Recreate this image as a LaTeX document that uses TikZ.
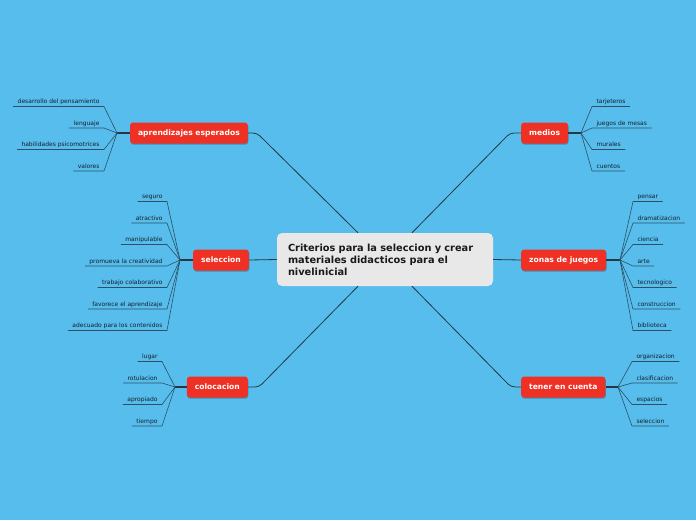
\documentclass[tikz,border=0pt]{standalone}
\usepackage{fontspec}
\setmainfont{DejaVu Sans}
\usetikzlibrary{shadows}
\definecolor{sky}{RGB}{86,189,236}
\definecolor{tomato}{RGB}{238,49,36}
\definecolor{paper}{RGB}{232,232,232}
\definecolor{ink}{RGB}{38,56,70}
\definecolor{twigc}{RGB}{46,80,102}
\definecolor{leaftext}{RGB}{22,32,42}

\begin{document}
\begin{tikzpicture}[x=1pt,y=-1pt,
  topic/.style={fill=paper,rounded corners=5pt,minimum height=53pt,inner xsep=11pt,
    text width=194pt,align=left,text=black!90,font=\fontsize{9.8}{12}\selectfont\bfseries},
  branch/.style={fill=tomato,rounded corners=3pt,minimum height=21pt,inner xsep=8pt,
    text=white,font=\fontsize{7.6}{9}\selectfont\bfseries,
    drop shadow={shadow xshift=0.5pt,shadow yshift=-1.2pt,opacity=0.25,fill=black}},
  leaf/.style={font=\fontsize{6}{7}\selectfont,text=leaftext,inner xsep=4.5pt,inner ysep=1.5pt,
    text height=4.5pt,text depth=1.5pt,outer sep=0pt},
  leafL/.style={leaf,anchor=south east},
  leafR/.style={leaf,anchor=south west},
  link/.style={draw=ink,line width=0.8pt,rounded corners=4pt},
  stub/.style={draw=ink,line width=1.1pt},
  twig/.style={draw=twigc,line width=0.6pt}]
  \useasboundingbox (0,0) rectangle (696,520);
  \fill[sky] (0,0) rectangle (696,520);

  % centre and main branches
  \node[topic] (ctr) at (385,259.5) {Criterios para la seleccion y crear\\materiales didacticos para el\\nivelinicial};
  \node[branch,anchor=east] (A) at (248,133) {aprendizajes esperados};
  \node[branch,anchor=east] (S) at (249,260) {seleccion};
  \node[branch,anchor=east] (C) at (248,387) {colocacion};
  \node[branch,anchor=west] (M) at (521,133) {medios};
  \node[branch,anchor=west] (Z) at (521,260) {zonas de juegos};
  \node[branch,anchor=west] (T) at (521,387) {tener en cuenta};

  \draw[link] (A.east) -- ++(9,0) -- ([xshift=-27pt]ctr.north);
  \draw[link] (S.east) -- (ctr.west);
  \draw[link] (C.east) -- ++(11,0) -- ([xshift=-27pt]ctr.south);
  \draw[link] (M.west) -- ++(-11,0) -- ([xshift=27pt]ctr.north);
  \draw[link] (Z.west) -- (ctr.east);
  \draw[link] (T.west) -- ++(-10,0) -- ([xshift=27pt]ctr.south);

  \coordinate (a0) at (117,133);
  \coordinate (s0) at (180,260);
  \coordinate (c0) at (175,387);
  \coordinate (m0) at (581,133);
  \coordinate (z0) at (620,260);
  \coordinate (t0) at (618,387);
  \draw[stub] (A.west) -- (a0);
  \draw[stub] (S.west) -- (s0);
  \draw[stub] (C.west) -- (c0);
  \draw[stub] (M.east) -- (m0);
  \draw[stub] (Z.east) -- (z0);
  \draw[stub] (T.east) -- (t0);

  % aprendizajes esperados
  \node[leafL] (a1) at (104,106.5) {desarrollo del pensamiento};
  \node[leafL] (a2) at (104,128) {lenguaje};
  \node[leafL] (a3) at (104,149.5) {habilidades psicomotrices};
  \node[leafL] (a4) at (104,171) {valores};
  \draw[twig] (a1.south west) -- (a1.south east) -- (a0);
  \draw[twig] (a2.south west) -- (a2.south east) -- (a0);
  \draw[twig] (a3.south west) -- (a3.south east) -- (a0);
  \draw[twig] (a4.south west) -- (a4.south east) -- (a0);

  % seleccion
  \node[leafL] (s1) at (167,201.5) {seguro};
  \node[leafL] (s2) at (167,223) {atractivo};
  \node[leafL] (s3) at (167,244.5) {manipulable};
  \node[leafL] (s4) at (167,266) {promueva la creatividad};
  \node[leafL] (s5) at (167,287.5) {trabajo colaborativo};
  \node[leafL] (s6) at (167,309) {favorece el aprendizaje};
  \node[leafL] (s7) at (167,330.5) {adecuado para los contenidos};
  \draw[twig] (s1.south west) -- (s1.south east) -- (s0);
  \draw[twig] (s2.south west) -- (s2.south east) -- (s0);
  \draw[twig] (s3.south west) -- (s3.south east) -- (s0);
  \draw[twig] (s4.south west) -- (s4.south east) -- (s0);
  \draw[twig] (s5.south west) -- (s5.south east) -- (s0);
  \draw[twig] (s6.south west) -- (s6.south east) -- (s0);
  \draw[twig] (s7.south west) -- (s7.south east) -- (s0);

  % colocacion
  \node[leafL] (c1) at (162,361.5) {lugar};
  \node[leafL] (c2) at (162,383) {rotulacion};
  \node[leafL] (c3) at (162,404.5) {apropiado};
  \node[leafL] (c4) at (162,426) {tiempo};
  \draw[twig] (c1.south west) -- (c1.south east) -- (c0);
  \draw[twig] (c2.south west) -- (c2.south east) -- (c0);
  \draw[twig] (c3.south west) -- (c3.south east) -- (c0);
  \draw[twig] (c4.south west) -- (c4.south east) -- (c0);

  % medios
  \node[leafR] (m1) at (592,106.5) {tarjeteros};
  \node[leafR] (m2) at (592,128) {juegos de mesas};
  \node[leafR] (m3) at (592,149.5) {murales};
  \node[leafR] (m4) at (592,171) {cuentos};
  \draw[twig] (m1.south east) -- (m1.south west) -- (m0);
  \draw[twig] (m2.south east) -- (m2.south west) -- (m0);
  \draw[twig] (m3.south east) -- (m3.south west) -- (m0);
  \draw[twig] (m4.south east) -- (m4.south west) -- (m0);

  % zonas de juegos
  \node[leafR] (z1) at (633,201.5) {pensar};
  \node[leafR] (z2) at (633,223) {dramatizacion};
  \node[leafR] (z3) at (633,244.5) {ciencia};
  \node[leafR] (z4) at (633,266) {arte};
  \node[leafR] (z5) at (633,287.5) {tecnologico};
  \node[leafR] (z6) at (633,309) {construccion};
  \node[leafR] (z7) at (633,330.5) {biblioteca};
  \draw[twig] (z1.south east) -- (z1.south west) -- (z0);
  \draw[twig] (z2.south east) -- (z2.south west) -- (z0);
  \draw[twig] (z3.south east) -- (z3.south west) -- (z0);
  \draw[twig] (z4.south east) -- (z4.south west) -- (z0);
  \draw[twig] (z5.south east) -- (z5.south west) -- (z0);
  \draw[twig] (z6.south east) -- (z6.south west) -- (z0);
  \draw[twig] (z7.south east) -- (z7.south west) -- (z0);

  % tener en cuenta
  \node[leafR] (t1) at (632,361.5) {organizacion};
  \node[leafR] (t2) at (632,383) {clasificacion};
  \node[leafR] (t3) at (632,404.5) {espacios};
  \node[leafR] (t4) at (632,426) {seleccion};
  \draw[twig] (t1.south east) -- (t1.south west) -- (t0);
  \draw[twig] (t2.south east) -- (t2.south west) -- (t0);
  \draw[twig] (t3.south east) -- (t3.south west) -- (t0);
  \draw[twig] (t4.south east) -- (t4.south west) -- (t0);
\end{tikzpicture}
\end{document}
